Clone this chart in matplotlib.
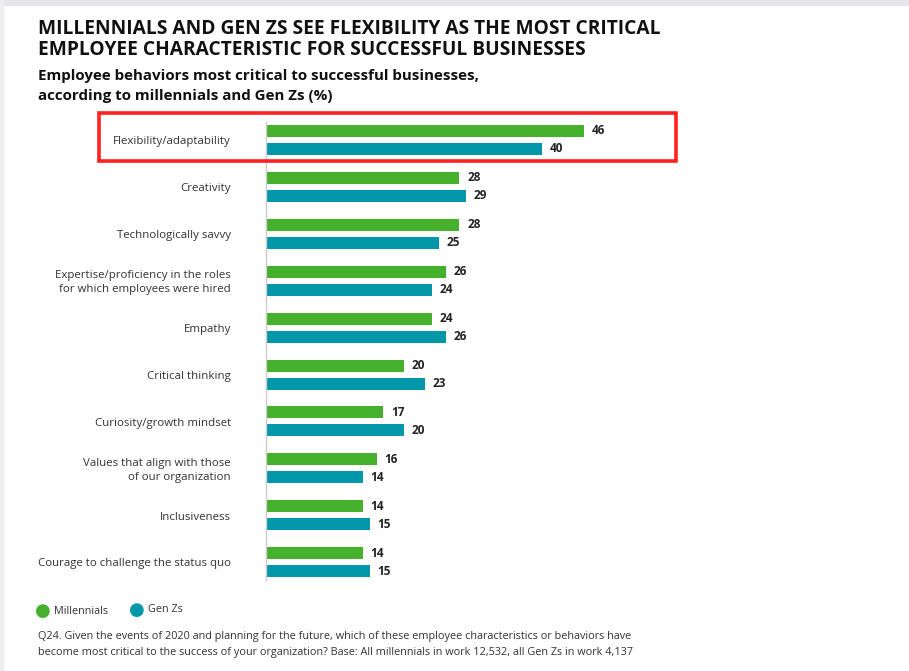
import matplotlib.pyplot as plt
from matplotlib.patches import Rectangle
import numpy as np

# dados
categories = [
    "Flexibility/adaptability",
    "Creativity",
    "Technologically savvy",
    "Expertise/proficiency in the roles\nfor which employees were hired",
    "Empathy",
    "Critical thinking",
    "Curiosity/growth mindset",
    "Values that align with those\nof our organization",
    "Inclusiveness",
    "Courage to challenge the status quo",
]
millennials = [46, 28, 28, 26, 24, 20, 17, 16, 14, 14]
gen_zs = [40, 29, 25, 24, 26, 23, 20, 14, 15, 15]

green = "#45B02C"
teal = "#0097A9"

plt.rcParams['font.family'] = ['Open Sans', 'DejaVu Sans']

W, H = 909, 671
fig = plt.figure(figsize=(W / 100, H / 100), dpi=100)
fig.patch.set_facecolor("white")

# faixa cinza no topo e na esquerda
fig.add_artist(Rectangle((0, 1 - 5 / H), 1, 5 / H, transform=fig.transFigure,
                         color="#e6e6ea", zorder=0))
fig.add_artist(Rectangle((0, 0), 3 / W, 1, transform=fig.transFigure,
                         color="#eeeeee", zorder=0))

def fx(px):
    return px / W

def fy(py):
    return 1 - py / H

ax_left, ax_right = 266, 266 + 50 * 6.91
ax_top, ax_bot = 122, 580
ax = fig.add_axes([fx(ax_left), fy(ax_bot), (ax_right - ax_left) / W, (ax_bot - ax_top) / H])

step = 46.9
y = np.arange(len(categories))
h = 12 / step
off = 9 / step
ax.barh(y - off, millennials, height=h, color=green)
ax.barh(y + off, gen_zs, height=h, color=teal)

for i in range(len(categories)):
    ax.text(millennials[i] + 1.1, y[i] - off, str(millennials[i]), va="center", ha="left",
            fontsize=8.5, fontweight="bold", color="#222222")
    ax.text(gen_zs[i] + 1.1, y[i] + off, str(gen_zs[i]), va="center", ha="left",
            fontsize=8.5, fontweight="bold", color="#222222")
    ax.text(-5.1, y[i] + 0.04, categories[i], va="center", ha="right", fontsize=8.25,
            color="#333333", linespacing=1.35)

ax.set_xlim(0, 50)
ax.set_ylim((ax_bot - 140) / step, (ax_top - 140) / step)
for s in ["top", "right", "bottom"]:
    ax.spines[s].set_visible(False)
ax.spines["left"].set_color("#cccccc")
ax.spines["left"].set_linewidth(1)
ax.set_xticks([])
ax.set_yticks([])

# destaque vermelho
fig.add_artist(Rectangle((fx(99), fy(161)), (676 - 99) / W, (161 - 113) / H,
                         transform=fig.transFigure, fill=False, edgecolor="#ff2020",
                         linewidth=2.6, zorder=5))

# titulos
fig.text(fx(38), fy(39.5), "MILLENNIALS AND GEN ZS SEE FLEXIBILITY AS THE MOST CRITICAL\n"
         "EMPLOYEE CHARACTERISTIC FOR SUCCESSFUL BUSINESSES",
         fontsize=13.8, fontweight="bold", color="#111111", va="center", ha="left",
         linespacing=1.12)
fig.text(fx(38), fy(76), "Employee behaviors most critical to successful businesses,",
         fontsize=10.9, fontweight="bold", color="#111111", va="center", ha="left")
fig.text(fx(38), fy(96), "according to millennials and Gen Zs (%)",
         fontsize=10.9, fontweight="bold", color="#111111", va="center", ha="left")

# legenda
fig.text(fx(43), fy(611), "\u25CF", color=green, fontsize=13, va="center", ha="center",
         family="DejaVu Sans")
fig.text(fx(54), fy(612), "Millennials", fontsize=7.8, color="#333333", va="center")
fig.text(fx(137), fy(610), "\u25CF", color=teal, fontsize=13, va="center", ha="center",
         family="DejaVu Sans")
fig.text(fx(148), fy(609), "Gen Zs", fontsize=7.8, color="#333333", va="center")

# nota
fig.text(fx(38), fy(637), "Q24. Given the events of 2020 and planning for the future, which of these "
         "employee characteristics or behaviors have", fontsize=7.85, color="#333333", va="center")
fig.text(fx(38), fy(653), "become most critical to the success of your organization? Base: All "
         "millennials in work 12,532, all Gen Zs in work 4,137", fontsize=7.85, color="#333333",
         va="center")

fig.savefig("out.png", dpi=100)
